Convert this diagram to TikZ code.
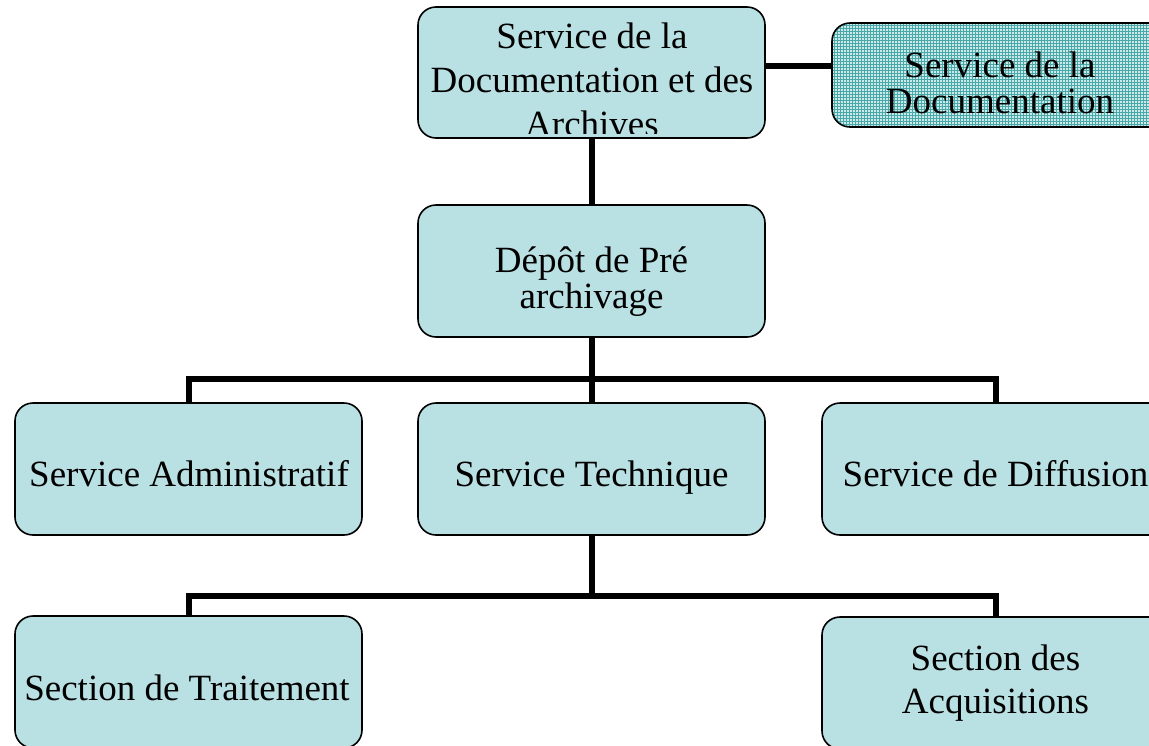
\documentclass[tikz,border=0pt]{standalone}
\usepackage{fontspec}
\setmainfont{Liberation Serif}
\usetikzlibrary{patterns}
\definecolor{boxfill}{RGB}{185,224,227}
\definecolor{patbase}{RGB}{205,234,234}
\definecolor{patline}{RGB}{75,168,168}
\tikzset{
  orgbox/.style={draw=black, line width=1.6pt, fill=boxfill, rectangle,
    rounded corners=18pt, inner sep=0pt, minimum width=347pt, minimum height=132pt},
  patbox/.style={draw=black, line width=1.6pt, rectangle, rounded corners=18pt,
    inner sep=0pt, preaction={fill=patbase}, pattern=grid, pattern color=patline},
  conn/.style={draw=black, line width=6pt},
  txt/.style={align=center, inner sep=0pt, anchor=base, text=black},
  big/.style={font=\fontsize{37}{44}\selectfont},
  mid/.style={font=\fontsize{37}{36}\selectfont},
  acqf/.style={font=\fontsize{37}{43}\selectfont}
}
\begin{document}
\begin{tikzpicture}[x=1pt,y=-1pt]
\useasboundingbox (0,0) rectangle (1149,745);
\clip (0,0) rectangle (1149,745);
\fill[white] (0,0) rectangle (1149,745);

% boxes (shapes)
\node[orgbox, minimum height=131pt] (top) at (591.5,72.5) {};
\node[patbox, minimum width=336pt, minimum height=104pt] (tr) at (1000,75) {};
\node[orgbox] (depot) at (591.5,271) {};
\node[orgbox] (admin) at (188.5,469) {};
\node[orgbox] (tech) at (591.5,469) {};
\node[orgbox] (diff) at (995.5,469) {};
\node[orgbox] (trait) at (188.5,682) {};
\node[orgbox] (acq) at (995.5,683) {};

% connector helpers
\coordinate (lk) at (798,66);
\coordinate (b1) at (592,379);
\coordinate (b2) at (592,596);

% connectors
\draw[conn] (top.south) -- (depot.north);
\draw[conn] (depot.south) -- (tech.north);
\draw[conn] (admin.north) |- (b1) -| (diff.north);
\draw[conn] (tech.south) -- (tech.south |- b2);
\draw[conn] (trait.north) |- (b2) -| (acq.north);
\draw[conn] (top.east |- lk) -- (tr.west |- lk);

% texts (base anchor = baseline of the last line)
\begin{scope}
\clip (419,8) rectangle (764,133);
\node[txt, big] (ttop) at (592,136) {Service de la\\Documentation et des\\Archives};
\end{scope}
\node[txt, mid] (ttr) at (1000,113) {Service de la\\Documentation};
\node[txt, mid] (tdepot) at (591.5,308) {Dépôt de Pré\\archivage};
\node[txt, big] (tadmin) at (189,486) {Service Administratif};
\node[txt, big] (ttech) at (591.5,486) {Service Technique};
\node[txt, big] (tdiff) at (995.5,486) {Service de Diffusion};
\node[txt, big] (ttrait) at (187,700) {Section de Traitement};
\node[txt, acqf] (tacq) at (995.5,713) {Section des\\Acquisitions};
\end{tikzpicture}
\end{document}
